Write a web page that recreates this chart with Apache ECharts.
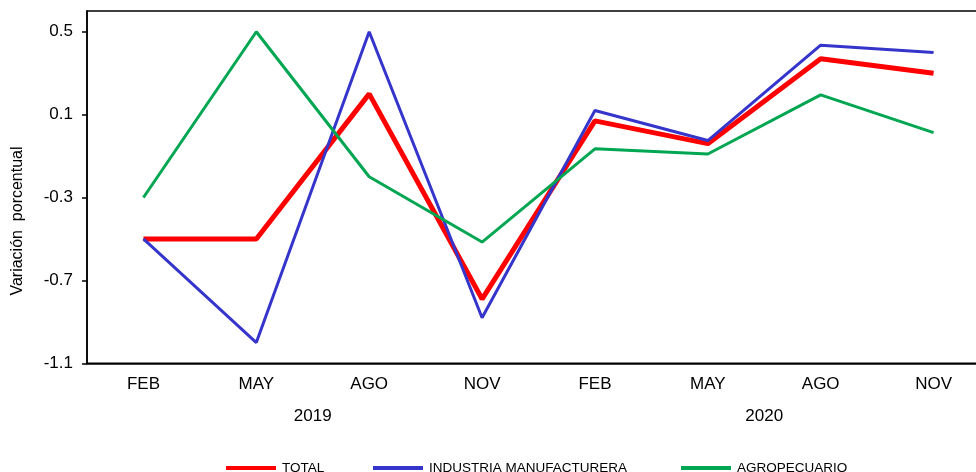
<!DOCTYPE html>
<html>
<head>
<meta charset="utf-8">
<script src="https://cdn.jsdelivr.net/npm/echarts@6/dist/echarts.min.js"></script>
<style>html,body{margin:0;padding:0;background:#fff}#c{width:976px;height:472px}</style>
</head>
<body>
<div id="c"></div>
<script>
const months = ['FEB','MAY','AGO','NOV','FEB','MAY','AGO','NOV'];
const years = ['2019','2020'];
const yTicks = [-1.1, -0.7, -0.3, 0.1, 0.5];
const total = [-0.5, -0.5, 0.2, -0.79, 0.07, -0.04, 0.37, 0.30];
const industria = [-0.5, -1.0, 0.5, -0.88, 0.12, -0.025, 0.435, 0.40];
const agro = [-0.3, 0.5, -0.2, -0.515, -0.065, -0.09, 0.195, 0.013];
const names = ['TOTAL', 'INDUSTRIA MANUFACTURERA', 'AGROPECUARIO'];

const font = 'Liberation Sans, Arial, sans-serif';
const chart = echarts.init(document.getElementById('c'));
const legendBase = {
  orient: 'horizontal', top: 461, padding: 0, icon: 'rect', itemWidth: 50, itemHeight: 4,
  textStyle: { fontFamily: font, fontSize: 13.5, color: '#000', padding: [0, 0, 0, 1] }, selectedMode: false
};
chart.setOption({
  animation: false,
  backgroundColor: '#fff',
  grid: { left: 87, top: 11, width: 903, height: 352.3, show: true, borderColor: '#000', borderWidth: 1.5,
    containLabel: false, outerBoundsMode: 'none' },
  legend: [
    Object.assign({}, legendBase, { left: 226, data: [names[0]] }),
    Object.assign({}, legendBase, { left: 373, data: [names[1]] }),
    Object.assign({}, legendBase, { left: 681, data: [names[2]] })
  ],
  graphic: [{
    type: 'text', x: 18, y: 221, rotation: Math.PI / 2,
    style: { text: 'Variación  porcentual', font: '16px ' + font, fill: '#000', textAlign: 'center', textVerticalAlign: 'middle' }
  }],
  xAxis: [
    { type: 'category', data: months, boundaryGap: true, position: 'bottom',
      axisLine: { show: true, onZero: false, lineStyle: { color: '#000', width: 1.5 } }, axisTick: { show: false },
      axisLabel: { fontFamily: font, fontSize: 17, color: '#000', margin: 13 }, splitLine: { show: false } },
    { type: 'category', data: years, boundaryGap: true, position: 'bottom',
      axisLine: { show: false, onZero: false }, axisTick: { show: false },
      axisLabel: { fontFamily: font, fontSize: 17, color: '#000', margin: 45 }, splitLine: { show: false } }
  ],
  yAxis: {
    type: 'value', min: -1.1, max: 0.6, interval: 0.4,
    axisLine: { show: true, lineStyle: { color: '#000', width: 1.5 } },
    axisTick: { show: true, inside: false, length: 5, lineStyle: { color: '#000', width: 1.5 }, customValues: yTicks },
    axisLabel: { fontFamily: font, fontSize: 17, color: '#000', margin: 14, customValues: yTicks,
      formatter: v => Number(v).toFixed(1) },
    splitLine: { show: false }
  },
  series: [
    { name: names[0], type: 'line', data: total, symbol: 'none', xAxisIndex: 0,
      itemStyle: { color: '#FF0000' }, lineStyle: { color: '#FF0000', width: 5 } },
    { name: names[1], type: 'line', data: industria, symbol: 'none', xAxisIndex: 0,
      itemStyle: { color: '#3535CC' }, lineStyle: { color: '#3535CC', width: 3 } },
    { name: names[2], type: 'line', data: agro, symbol: 'none', xAxisIndex: 0,
      itemStyle: { color: '#00A651' }, lineStyle: { color: '#00A651', width: 3 } }
  ]
});
</script>
</body>
</html>
